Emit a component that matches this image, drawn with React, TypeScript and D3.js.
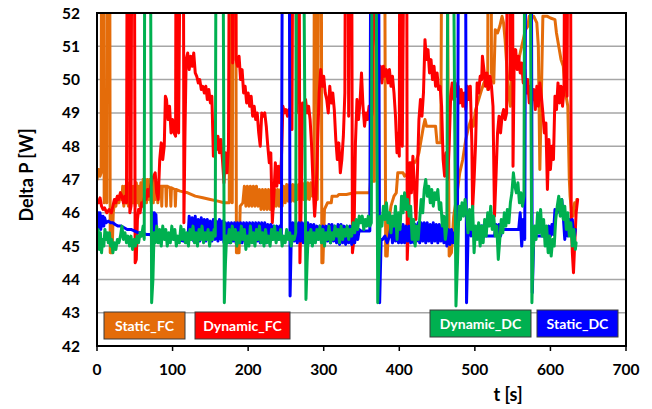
import React from "react";
import * as d3 from "d3";

type Pt = [number, number];

const xTicks = [0, 100, 200, 300, 400, 500, 600, 700];
const yTicks = [42, 43, 44, 45, 46, 47, 48, 49, 50, 51, 52];
const seriesNames = ["Static_FC", "Dynamic_FC", "Dynamic_DC", "Static_DC"];

const staticFC: Pt[] = [
  [0,47.0],[2,47.3],[4,47.1],[5.5,47.2],[6.5,60],[8.5,60],[9.5,46.3],[11,46.5],[13,46.3],[14,60],[16.5,60],[17.5,44.8],[20,44.8],[21.5,46.0],[23,46.3],[25,46.2],[27,46.5],[29,46.3],[31,46.6],[33,46.4],
  [34,46.8],[35.5,46.2],[37,46.8],[38.5,46.3],[40,46.8],[41.5,46.2],[43,46.9],[44.5,46.2],[46,46.8],[47.5,46.3],[49,46.8],[50.5,46.2],[52,46.9],[53.5,46.3],[55,46.8],[56.5,46.2],[58,46.9],[59.5,46.3],[61,47.0],[62.5,46.3],[64,47.0],[65.5,46.3],[67,47.0],[68.5,46.4],[70,47.0],[71.5,46.3],[73,47.0],[74.5,46.3],[76,47.0],[77.5,46.4],[79,46.9],[80.5,46.3],
  [82,46.8],[85,46.8],[85.7,46.2],[86.5,46.8],[91,46.8],[91.7,46.2],[92.5,46.8],[97,46.75],[97.7,46.2],[98.5,46.75],[103,46.7],[103.7,46.2],[104.5,46.7],[110,46.65],[120,46.6],[130,46.5],[140,46.45],[150,46.4],[160,46.35],[168,46.3],[175,46.3],
  [176,60],[178,60],[179,46.3],[180.5,60],[183,60],[184.5,44.8],[188,44.8],[189.5,46.2],[193,46.3],
  [195,46.8],[197,46.2],[199,46.8],[201,46.2],[203,46.8],[205,46.2],[207,46.8],[209,46.2],[211,46.8],[213,46.2],[215,46.7],[217,46.1],[219,46.7],[221,46.1],[223,46.7],[225,46.1],[227,46.7],[229,46.1],[231,46.7],[233,46.1],[235,46.7],[237,46.2],[239,46.7],[241,46.2],[243,46.7],[245,46.2],[247,46.8],[249,46.3],[251,46.85],[253,46.35],[255,46.85],[257,46.35],[259,46.85],[261,46.35],[263,46.85],[265,46.4],[267,46.85],[269,46.4],[271,46.9],[273,46.4],[275,46.9],[277,46.4],[279,46.9],[281,46.4],[283,46.9],[285,46.5],[287,46.8],
  [288,60],[290,60],[291.5,46.4],[295,60],[296.5,60],[297.5,44.5],[299,44.5],[301,46.1],[305,46.3],[310,46.3],[311,46.5],[318,46.5],[320,46.55],[330,46.55],[340,46.6],[361,46.6],[362,46.95],[367,46.95],
  [368,60],[371,60],[372,47],[373,60],[380,60],[382,44.7],[384,44.7],[386,45.7],[389,46.2],[393,46.5],[396,46.6],[398,47.2],[405,47.2],[407,47.1],[412,47.2],[416,47.5],[420,47.5],[423,47.6],[426,47.8],[429,48.2],[432,48.6],[434,48.8],[436,48.6],[448,48.6],[450,48.1],[455,48.1],
  [457,60],[462,60],[466,44.7],[469,44.8],[472,45.9],[476,46.5],[480,47.2],[484,47.6],[488,48.2],[492,48.6],[495,48.8],[498,48.6],[501,49.1],[505,49.4],[509,49.7],[512,49.9],[515,50.0],[517,49.7],[518,60],[521,60],[522,50.2],[525,49.9],[527,51.5],[530,51.4],[533,51.6],[536,51.9],[538,51.7],[540,51.2],[542,50.5],[545,49.5],[547,49.2],[549,50.3],[552,50.9],[556,50.4],[560,50.8],[564,51.2],[567,51.5],[570,51.6],[572,51.9],[578,51.9],[582,51.7],[584,51.0],[586,47.3],[588,49.5],[590,51.9],[596,51.9],[600,51.85],[606,51.8],[608,51.4],[611,51.0],[614,50.6],[617,50.4],[620,49.6],[623,49.2],[625,47.0],[626,46.5],[628,46.0],[630,45.9],[632,46.3],[634,46.2],[635,46.4]
];

const dynamicFC: Pt[] = [
  [0,46.4],[2,46.3],[4,46.45],[6,46.2],[8,46.1],[10,46.15],[13,46.0],[16,46.1],[19,46.0],[21,46.2],[23,46.4],[25,46.3],[27,46.5],[29,46.4],[31,46.6],[33,46.5],[35,46.3],[37,46.5],[39,46.3],
  [40.5,60],[42.5,60],[43.5,46.0],[45,46.2],[46.5,60],[49,60],[50.5,44.5],[52,44.6],[53.5,45.8],[55,46.1],[57,46.0],[59,46.3],[61,46.2],[63,46.5],[65,46.4],[67,46.7],[69,46.5],[71,46.8],[73,47.0],[75,47.1],[77,47.2],[79,46.6],[81,46.4],[83,47.6],[85,48.1],[87,47.6],[89,48.0],[90.5,49.5],[92,49.4],[94,48.8],[96,49.2],[98,48.4],[100,48.8],[102,48.4],[104,48.3],
  [105,60],[107,60],[108,48.4],[112,60],[114,60],[115,45.7],[116.5,48.5],[118,50.6],[120,50.8],[122,50.3],[124,50.7],[126,50.4],[128,50.8],[130,50.2],[132,50.1],[134,49.9],[136,50.0],[138,49.7],[140,49.8],[142,49.6],[144,49.8],[146,49.4],[148,49.7],[150,49.3],[152,49.5],[154,47.7],[156,48.4],[158,47.9],[160,48.3],[162,47.8],[164,48.2],[166,47.6],[168,46.9],[170,47.8],[172,47.2],[174,48.0],
  [176,60],[178,60],[179.5,50.5],[181,60],[183,60],[184,50.6],[186,50.4],[188,50.7],[190,50.0],[192,50.3],[194,49.6],[196,49.8],[198,49.3],[200,49.6],[202,49.2],[204,49.5],[206,48.9],[208,49.2],[210,48.8],[212,49.0],[214,48.4],[216,48.0],[218,49.0],[220,48.9],[222,49.0],[224,48.6],[226,48.0],[228,47.5],[230,47.8],[232,45.7],[234,46.5],[236,47.5],[238,46.8],[240,47.4],[242,46.9],[244,47.6],[246,49.2],[248,49.0],[250,49.1],[252,48.9],[254,49.1],[256,49.0],[258,48.5],
  [260,60],[262,60],[264,49.0],[266,60],[267,60],[268.5,44.5],[270,46.0],[272,49.3],[274,49.1],[276,49.4],[278,49.0],[280,49.2],[282,48.8],[284,48.0],[286,46.8],[288,45.9],[290,46.6],[292,48.2],[294,49.6],[296,50.3],[298,49.8],[300,50.1],[302,49.6],[304,49.4],[306,49.0],[308,49.8],[310,49.3],[312,49.6],[314,49.1],[316,48.2],[318,47.6],[320,48.1],[322,47.2],[324,47.6],[326,48.3],[328,49.6],
  [329.5,60],[331.5,60],[333,48.9],[335,60],[336.5,60],[338,44.8],[340,45.2],[342,48.1],[344,49.4],[346,48.8],[348,49.3],[350,50.2],[352,49.2],[354,48.6],[356,49.0],[358,48.8],[360,49.2],[362,48.7],[364,49.0],[365,51.7],[366,60],[368,60],[369,51.2],[371,50.6],[373,50.2],[375,50.4],[377,49.9],[379,50.4],[381,50.1],[383,50.3],[385,49.9],[387,50.3],[389,49.8],[391,50.1],[393,49.6],[395,48.9],[397,47.8],[399,48.4],[400,47.7],
  [401,60],[403,60],[404,48.0],[408,60],[409.5,60],[410.5,44.6],[412,45.5],[414,47.5],[416,46.6],[418,47.7],[420,46.8],[422,45.8],[424,47.2],[426,48.8],[428,49.4],[430,48.9],[432,49.6],[434,51.2],[436,50.6],[438,50.9],[440,50.2],[442,50.6],[444,50.0],[446,50.4],[448,49.8],[450,50.2],[452,49.7],[454,49.8],[456,49.2],[458,47.6],[460,47.1],[462,47.8],[464,47.0],[466,48.0],[468,49.5],[470,49.9],[472,49.4],[474,49.9],[476,49.5],[478,49.8],[480,49.3],[482,49.7],[484,49.2],[486,49.6],[488,49.1],[490,49.8],[492,49.4],[494,49.8],[496,48.1],[497,46.1],[499,47.0],[501,48.1],[503,49.9],[505,49.6],[507,50.1],[509,50.0],[510,50.7],[512,50.3],[514,49.8],[516,50.2],[518,49.7],[520,50.1],[522,49.8],[524,49.2],[526,45.9],[528,47.1],[530,48.4],[532,48.9],[534,48.4],[536,48.9],[538,49.1],[540,48.8],[542,49.0],
  [543.5,60],[545.5,60],[547,50.0],[548.5,60],[549.5,60],[550.5,47.4],[552,50.5],[554,50.9],[556,50.3],[558,50.7],[560,50.2],[562,50.5],[564,49.9],[566,50.3],[568,49.6],[570,50.0],[572,49.3],[574,49.8],[576,49.4],[578,49.7],[580,49.1],[582,49.8],[584,49.2],[586,49.9],[588,49.5],[590,49.0],[592,48.4],[594,48.7],[596,46.7],[598,48.2],[600,47.3],[602,48.0],[604,47.6],[606,49.5],[608,49.1],[610,49.9],[612,49.3],[614,49.8],[616,49.2],[618,49.7],
  [619.5,60],[621,60],[622,49.5],[624,60],[626,60],[627.5,46.0],[629,44.8],[630.5,44.2],[632,45.0],[634,46.0],[636,46.4]
];

const staticDC: Pt[] = [
  [0,46.0],[1,45.5],[2,46.0],[3,45.6],[4,46.0],[5,45.5],[6,45.9],[7,45.6],[8,45.9],[9,45.6],[10,45.85],[12,45.7],[15,45.75],[18,45.7],[21,45.7],[24,45.65],[28,45.6],[32,45.6],[36,45.55],[40,45.5],[45,45.5],[50,45.45],[55,45.4],[60,45.4],[65,45.35],[70,45.35],[73,45.3],[74,46.0],[75,45.4],[76,46.0],[77,45.4],[78,45.95],[79,45.3],[85,45.3],[95,45.25],[105,45.2],[115,45.15],[120,45.1],
  [122,45.9],[124,45.2],[126,45.85],[128,45.15],[130,45.9],[132,45.2],[134,45.8],[136,45.15],[138,45.85],[140,45.2],[142,45.8],[144,45.15],[146,45.8],[148,45.2],[150,45.75],[152,45.15],[154,45.8],[156,45.2],[158,45.75],[160,45.15],[162,45.8],[164,45.2],[166,45.75],[168,45.1],[170,45.7],[172,45.15],[174,45.7],[176,45.1],[178,45.7],[180,45.15],[182,45.7],[184,45.1],[186,45.7],[188,45.15],[190,45.7],[192,45.1],[194,45.7],[196,45.15],[198,45.7],[200,45.1],[202,45.7],[204,45.15],[206,45.7],[208,45.1],[210,45.7],[212,45.15],[214,45.7],[216,45.1],[218,45.7],[220,45.15],[222,45.7],[224,45.1],[226,45.65],[228,45.15],[230,45.65],[232,45.2],[234,45.6],[236,45.2],[238,45.6],[240,45.2],[242,45.6],[244,45.3],
  [246,60],[254,60],[255.5,43.5],[257,45.2],
  [259,45.7],[261,45.15],[263,45.7],[265,45.1],[267,45.7],[269,45.15],[271,45.7],[273,45.1],[275,45.7],[277,45.15],[279,45.7],[281,45.1],[283,45.65],[285,45.15],[287,45.65],[289,45.2],[291,45.6],[293,45.2],[295,45.6],[297,45.25],[299,45.6],[301,45.2],[303,45.6],[305,45.15],[307,45.65],[309,45.1],[311,45.65],[313,45.15],[315,45.6],[317,45.1],[319,45.65],[321,45.05],[323,45.65],[325,45.1],[327,45.6],[329,45.05],[331,45.6],[333,45.1],[335,45.6],[337,45.05],[339,45.6],[341,45.1],[343,45.55],[345,45.2],[347,45.5],[349,45.45],[355,45.45],[361,45.45],
  [363,60],[372,60],[374,43.3],[376,45.2],[378,45.2],[381,45.3],[384,45.1],[387,45.3],
  [389,45.6],[391,45.1],[393,45.6],[395,45.15],[397,45.6],[399,45.1],[401,45.6],[403,45.1],[405,45.65],[407,45.1],[409,45.6],[411,45.15],[413,45.6],[415,45.1],[417,45.6],[419,45.1],[421,45.65],[423,45.15],[425,45.7],[427,45.1],[429,45.7],[431,45.15],[433,45.7],[435,45.1],[437,45.7],[439,45.15],[441,45.65],[443,45.1],[445,45.7],[447,45.15],[449,45.65],[451,45.1],[453,45.65],[455,45.15],[457,45.6],[459,45.1],[461,45.6],[463,45.0],[465,45.5],[467,45.05],[469,45.5],[471,45.1],[473,45.4],[475,45.2],
  [477,45.3],[479,60],[487,60],[489,43.3],[491,45.3],[493,45.6],[495,45.3],[497,45.6],[499,45.3],[502,45.3],[506,45.35],[508,45.6],[512,45.6],[514,45.3],[520,45.3],[526,45.3],[528,45.65],[530,45.3],[532,45.65],[534,45.3],[536,45.5],[540,45.5],[550,45.5],[558,45.5],[560,46.0],[562,45.0],[564,45.8],[566,45.2],
  [568,60],[574,60],[576,43.6],[578,45.3],[582,45.3],[590,45.3],[596,45.3],[598,45.6],[600,45.3],[602,45.65],[604,45.35],[606,46.1],[609,46.0],[612,46.2],[615,46.4],[617,45.9],[619,45.2],[621,45.9],[623,45.3],[625,45.8],[627,45.4],[629,45.8],[631,45.1],[633,45.5]
];

const dynamicDC: Pt[] = [
  [0,45.1],[1.5,45.5],[3,44.9],[4.5,45.4],[6,44.8],[7.5,45.2],[9,45.0],[10.5,45.5],[12,45.2],[13.5,45.4],[15,45.1],[16.5,45.4],[18,45.0],[19.5,45.2],[21,44.8],[23,45.1],[25,44.9],[27,45.2],[29,45.1],[31,45.3],[33,45.6],[35,45.2],[37,45.4],[39,45.1],[41,45.3],[43,45.0],[45,45.3],[47,44.9],[49,45.2],[51,45.0],[53,45.3],[55,45.1],[57,45.4],[59,45.3],[61,45.6],[62.5,45.2],
  [63.5,60],[70,60],[72.3,43.3],[74,44.0],[75.5,45.4],[77,45.1],[79,45.6],[81,45.1],[83,45.5],[85,45.0],[87,45.6],[89,45.2],[91,45.5],[93,45.0],[95,45.4],[97,45.1],[99,45.6],[101,45.2],[103,45.5],[105,45.0],[107,45.3],[109,45.1],[111,45.6],[113,45.2],[115,45.5],[117,45.1],[119,45.4],[121,45.0],[123,45.5],[125,45.2],[127,45.6],[129,45.1],[131,45.4],[133,45.0],[135,45.5],[137,45.2],[139,45.6],[141,45.1],[143,45.4],[145,45.2],[147,45.5],[149,45.0],[151,45.4],[153,45.2],[155,45.5],[156.5,45.3],
  [158,60],[166,60],[168.5,43.3],[170,44.5],[171.5,45.3],[173,45.1],[175,45.5],[177,45.1],[179,45.6],[181,45.2],[183,45.5],[185,45.0],[187,45.4],[189,45.1],[191,45.6],[193,45.2],[195,45.5],[197,44.9],[199,45.3],[201,45.0],[203,45.6],[205,45.1],[207,45.4],[209,45.0],[211,45.5],[213,45.2],[215,45.6],[217,45.1],[219,45.4],[221,45.0],[223,45.5],[225,45.1],[227,45.3],[229,45.0],[231,45.5],[233,45.2],[235,45.6],[237,45.1],[239,45.4],[241,45.2],[243,45.5],[245,45.0],[247,45.3],[249,45.1],[251,45.5],[253,45.2],[255,45.4],[257,45.0],[259,45.3],[261,45.2],[263,45.4],
  [264.5,60],[272,60],[276.5,43.4],[278,44.5],[279.5,45.4],[281,45.1],[283,45.5],[285,45.0],[287,45.4],[289,45.1],[291,45.5],[293,45.2],[295,45.6],[297,45.1],[299,45.5],[301,45.0],[303,45.4],[305,45.2],[307,45.6],[309,45.1],[311,45.4],[313,45.2],[315,45.6],[317,45.3],[319,45.5],[321,45.1],[323,45.6],[325,45.2],[327,45.5],[329,45.3],[331,45.6],[333,45.2],[335,45.5],[337,45.3],[339,45.7],[341,45.4],[343,45.8],[345,45.5],[347,45.9],[349,45.7],[351,45.9],[353,45.5],[355,45.8],[357,45.6],[359,45.9],[361,45.6],[363,45.7],
  [364.5,60],[368,60],[371.5,43.3],[373,44.5],[375,45.9],[377,45.6],[379,46.2],[381,45.8],[383,46.3],[385,45.7],[387,46.0],[389,45.4],[391,45.9],[393,45.6],[395,46.2],[397,45.2],[399,46.0],[401,45.5],[403,46.5],[405,46.0],[407,46.6],[409,46.1],[411,46.4],[413,45.9],[415,46.2],[417,45.2],[419,45.8],[421,45.0],[423,45.6],[425,45.2],[427,45.8],[429,46.4],[431,46.0],[433,46.7],[435,47.0],[437,46.5],[439,46.8],[441,46.3],[443,46.7],[445,46.2],[447,46.6],[449,46.4],[451,46.7],[453,46.1],[455,46.3],[457,45.6],[459,45.9],[461,45.2],[463,45.6],
  [465,60],[470,60],[475,43.2],[477,44.5],[479,46.2],[481,45.8],[483,46.3],[485,45.9],[487,46.4],[489,46.0],[491,45.4],[493,46.1],[495,45.5],[497,46.2],[499,44.8],[501,45.6],[503,45.2],[505,45.7],[507,45.0],[509,45.6],[511,45.1],[513,45.8],[515,45.3],[517,46.0],[519,45.6],[521,46.2],[523,45.5],[525,45.9],[527,45.3],[529,45.6],[531,44.6],[533,45.2],[535,45.8],[537,45.4],[539,46.0],[541,45.6],[543,46.1],[545,45.7],[547,46.3],[549,46.6],[551,47.2],[553,46.8],[555,46.6],[557,46.9],[559,46.3],[561,46.6],[563,46.2],[565,46.5],
  [566.5,60],[572,60],[575.5,43.3],[577,44.8],[579,45.6],[581,45.2],[583,46.0],[585,45.4],[587,46.1],[589,45.3],[591,45.8],[593,45.0],[595,45.6],[597,44.8],[599,45.3],[601,44.7],[603,45.2],[605,45.0],[607,45.8],[609,46.2],[611,46.5],[613,45.9],[615,46.4],[617,45.8],[619,46.2],[621,45.5],[623,46.0],[625,45.3],[627,45.7],[629,45.0],[631,45.5],[633,44.9],[634,45.1]
];

const colors: Record<string, string> = {
  Static_FC: "#E46C0A",
  Dynamic_FC: "#FF0000",
  Dynamic_DC: "#00B050",
  Static_DC: "#0000FF",
};

const W = 652, H = 409;
const left = 97, right = 626, top = 13, bottom = 346;
const FONT = "Lato, 'Open Sans', sans-serif";

export default function App() {
  const x = d3.scaleLinear().domain([0, 700]).range([left, right]);
  const y = d3.scaleLinear().domain([42, 52]).range([bottom, top]);
  const line = d3.line<Pt>().x(d => x(d[0])).y(d => y(d[1])).curve(d3.curveLinear);

  const drawOrder: [string, Pt[]][] = [
    ["Static_FC", staticFC],
    ["Dynamic_FC", dynamicFC],
    ["Static_DC", staticDC],
    ["Dynamic_DC", dynamicDC],
  ];

  const legend = [
    { name: seriesNames[0], x0: 104, x1: 185, y0: 312 },
    { name: seriesNames[1], x0: 195, x1: 290, y0: 312 },
    { name: seriesNames[2], x0: 430, x1: 531, y0: 310 },
    { name: seriesNames[3], x0: 537, x1: 618, y0: 310 },
  ];

  return (
    <svg width={W} height={H} style={{ position: "absolute", left: 0, top: 0, background: "#fff" }} fontFamily={FONT}>
      <defs>
        <clipPath id="plotClip">
          <rect x={left} y={top} width={right - left} height={bottom - top} />
        </clipPath>
      </defs>
      {yTicks.filter(v => v > 42 && v < 52).map(v => (
        <line key={"g" + v} x1={left} x2={right} y1={y(v)} y2={y(v)} stroke="#a6a6a6" strokeWidth={1.5} />
      ))}
      <g clipPath="url(#plotClip)">
        {drawOrder.map(([name, data]) => (
          <path key={name} d={line(data) || ""} fill="none" stroke={colors[name]} strokeWidth={3} strokeLinejoin="round" strokeLinecap="round" />
        ))}
      </g>
      <rect x={left} y={top} width={right - left} height={bottom - top} fill="none" stroke="#000" strokeWidth={2} />
      {xTicks.map(v => (
        <g key={"x" + v}>
          <line x1={x(v)} x2={x(v)} y1={bottom} y2={bottom + 5} stroke="#000" strokeWidth={1.5} />
          <text x={x(v)} y={375} textAnchor="middle" fontSize={15.5} fontWeight="bold" fill="#000">{v}</text>
        </g>
      ))}
      {yTicks.map(v => (
        <text key={"y" + v} x={80} y={y(v)} dy="0.36em" textAnchor="end" fontSize={15.5} fontWeight="bold" fill="#000">{v}</text>
      ))}
      <text x={508} y={401} textAnchor="middle" fontSize={18} fontWeight="bold" fill="#000">t [s]</text>
      <text transform={`translate(33,175) rotate(-90)`} textAnchor="middle" fontSize={18} fontWeight="bold" fill="#000">Delta P [W]</text>
      {legend.map(l => (
        <g key={l.name}>
          <rect x={l.x0} y={l.y0} width={l.x1 - l.x0} height={27} fill={colors[l.name]} stroke="#3a3a3a" strokeWidth={1} />
          <text x={(l.x0 + l.x1) / 2} y={l.y0 + 14} dy="0.36em" textAnchor="middle" fontSize={14} fontWeight="bold" fill="#fff">{l.name}</text>
        </g>
      ))}
    </svg>
  );
}
